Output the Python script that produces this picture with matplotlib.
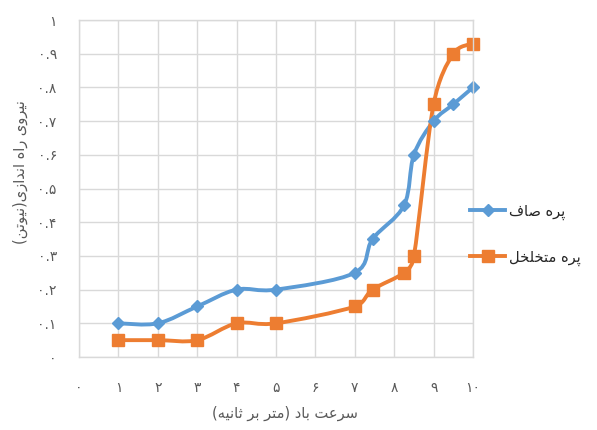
import numpy as np
import matplotlib
import matplotlib.pyplot as plt
from matplotlib.path import Path
from matplotlib.patches import PathPatch
from matplotlib.lines import Line2D

matplotlib.use("Agg")

# wind speed (m/s) and starting force (N) for the two blade types
wind_speed = [1, 2, 3, 4, 5, 7, 7.45, 8.25, 8.5, 9, 9.5, 10]
force_plain = [0.1, 0.1, 0.15, 0.2, 0.2, 0.25, 0.35, 0.45, 0.6, 0.7, 0.75, 0.8]
force_porous = [0.05, 0.05, 0.05, 0.1, 0.1, 0.15, 0.2, 0.25, 0.3, 0.75, 0.9, 0.93]

series_names = ["پره صاف", "پره متخلخل"]
x_title = "سرعت باد (متر بر ثانیه)"
y_title = "نیروی راه اندازی(نیوتن)"
x_ticks = list(range(0, 11))
y_ticks = [round(0.1 * i, 1) for i in range(0, 11)]

BLUE = "#5B9BD5"
ORANGE = "#ED7D31"
GRID = "#D9D9D9"
TEXT = "#595959"

# Arabic presentation forms: isolated, final, initial, medial
FORMS = {
    "ا": ("\uFE8D", "\uFE8E", None, None),
    "ب": ("\uFE8F", "\uFE90", "\uFE91", "\uFE92"),
    "پ": ("\uFB56", "\uFB57", "\uFB58", "\uFB59"),
    "ت": ("\uFE95", "\uFE96", "\uFE97", "\uFE98"),
    "ث": ("\uFE99", "\uFE9A", "\uFE9B", "\uFE9C"),
    "خ": ("\uFEA5", "\uFEA6", "\uFEA7", "\uFEA8"),
    "د": ("\uFEA9", "\uFEAA", None, None),
    "ر": ("\uFEAD", "\uFEAE", None, None),
    "ز": ("\uFEAF", "\uFEB0", None, None),
    "س": ("\uFEB1", "\uFEB2", "\uFEB3", "\uFEB4"),
    "ص": ("\uFEB9", "\uFEBA", "\uFEBB", "\uFEBC"),
    "ع": ("\uFEC9", "\uFECA", "\uFECB", "\uFECC"),
    "ف": ("\uFED1", "\uFED2", "\uFED3", "\uFED4"),
    "ل": ("\uFEDD", "\uFEDE", "\uFEDF", "\uFEE0"),
    "م": ("\uFEE1", "\uFEE2", "\uFEE3", "\uFEE4"),
    "ن": ("\uFEE5", "\uFEE6", "\uFEE7", "\uFEE8"),
    "ه": ("\uFEE9", "\uFEEA", "\uFEEB", "\uFEEC"),
    "و": ("\uFEED", "\uFEEE", None, None),
    "ی": ("\uFBFC", "\uFBFD", "\uFBFE", "\uFBFF"),
}
MIRROR = {"(": ")", ")": "("}


def fa(text):
    """Join the letters and put them in right-to-left visual order."""
    out = []
    for i, c in enumerate(text):
        if c not in FORMS:
            out.append(MIRROR.get(c, c))
            continue
        iso, fin, ini, med = FORMS[c]
        prev = text[i - 1] if i > 0 else ""
        nxt = text[i + 1] if i + 1 < len(text) else ""
        join_prev = prev in FORMS and FORMS[prev][2] is not None
        join_next = ini is not None and nxt in FORMS
        if join_prev and join_next:
            out.append(med)
        elif join_prev:
            out.append(fin)
        elif join_next:
            out.append(ini)
        else:
            out.append(iso)
    return "".join(reversed(out))


def fa_digits(s):
    return s.translate(str.maketrans("0123456789", "۰۱۲۳۴۵۶۷۸۹"))


def y_fmt(v):
    if v == 0:
        return fa_digits("0")
    if v == 1:
        return fa_digits("1")
    return fa_digits("0.%d" % round(v * 10))


def smooth_path(ax, x, y):
    # Catmull-Rom style Bezier; each handle is capped at half of its
    # segment's on-screen length so short steps do not loop
    pts = ax.transData.transform(np.column_stack([x, y]).astype(float))
    n = len(pts)
    verts = [pts[0]]
    codes = [Path.MOVETO]
    for i in range(n - 1):
        p0 = pts[max(i - 1, 0)]
        p1 = pts[i]
        p2 = pts[i + 1]
        p3 = pts[min(i + 2, n - 1)]
        half = np.hypot(*(p2 - p1)) / 2
        t1 = (p2 - p0) / 6
        t2 = (p3 - p1) / 6
        for t in (t1, t2):
            ln = np.hypot(*t)
            if ln > half:
                t *= half / ln
        verts += [p1 + t1, p2 - t2, p2]
        codes += [Path.CURVE4] * 3
    verts = ax.transData.inverted().transform(np.array(verts))
    return Path(verts, codes)


fig = plt.figure(figsize=(5.97, 4.30), dpi=100)
ax = fig.add_axes([79 / 597, 1 - 357 / 430, 394 / 597, 337 / 430])

ax.set_xlim(0, 10)
ax.set_ylim(0, 1)
ax.set_xticks(x_ticks)
ax.set_yticks(y_ticks)
ax.set_xticklabels([fa_digits(str(t)) for t in x_ticks])
ax.set_yticklabels([y_fmt(v) for v in y_ticks])
ax.tick_params(axis="both", length=0, colors=TEXT, labelsize=10)
ax.tick_params(axis="x", pad=17)
ax.tick_params(axis="y", pad=16)
ax.grid(True, color=GRID, linewidth=1.0)
ax.set_axisbelow(True)
for sp in ax.spines.values():
    sp.set_color(GRID)
    sp.set_linewidth(1.0)

for ys, color, marker, ms in [(force_plain, BLUE, "D", 6.5),
                              (force_porous, ORANGE, "s", 9)]:
    ax.add_patch(PathPatch(smooth_path(ax, wind_speed, ys), facecolor="none",
                           edgecolor=color, linewidth=2.8,
                           capstyle="round", joinstyle="round"))
    ax.plot(wind_speed, ys, linestyle="none", marker=marker, markersize=ms,
            color=color, clip_on=False)

ax.set_xlabel(fa(x_title), fontsize=10.5, color=TEXT)
ax.xaxis.set_label_coords(0.523, -0.167)
ax.set_ylabel(fa(y_title), fontsize=10.5, color=TEXT)
ax.yaxis.set_label_coords(-0.15, 0.549)
ax.xaxis.label.set_va("center")
ax.yaxis.label.set_va("center")

handles = [
    Line2D([], [], color=BLUE, linewidth=2.8, marker="D", markersize=6.5),
    Line2D([], [], color=ORANGE, linewidth=2.8, marker="s", markersize=9),
]
fig.legend(handles, [fa(s) for s in series_names], loc="center left",
           bbox_to_anchor=(470 / 597, 1 - 234.5 / 430), frameon=False,
           borderpad=0, borderaxespad=0, handlelength=2.4,
           handletextpad=0.3, labelspacing=2.05, fontsize=10.5,
           labelcolor="#262626")

fig.savefig("out.png", dpi=100)
